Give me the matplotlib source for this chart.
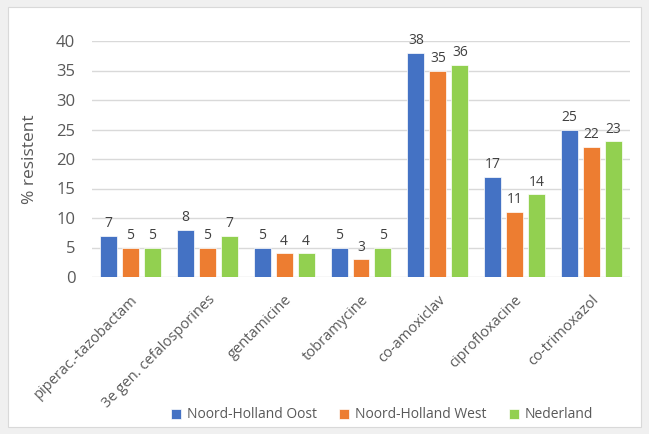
import matplotlib
matplotlib.use("Agg")
import matplotlib.pyplot as plt
import numpy as np
from matplotlib.patches import Rectangle

categories = ["piperac.-tazobactam", "3e gen. cefalosporines", "gentamicine",
              "tobramycine", "co-amoxiclav", "ciprofloxacine", "co-trimoxazol"]
series_names = ["Noord-Holland Oost", "Noord-Holland West", "Nederland"]
nho = [7, 8, 5, 5, 38, 17, 25]
nhw = [5, 5, 4, 3, 35, 11, 22]
nl = [5, 7, 4, 5, 36, 14, 23]
colors = ["#4472C4", "#ED7D31", "#92D050"]
yticks = [0, 5, 10, 15, 20, 25, 30, 35, 40]

plt.rcParams['font.family'] = ['Open Sans', 'DejaVu Sans']
fig = plt.figure(figsize=(6.49, 4.34), dpi=100)
fig.patch.set_facecolor("#f0f0f0")
fig.patches.append(Rectangle((8/649, 7/434), 633/649, 420/434, transform=fig.transFigure,
                             facecolor="white", edgecolor="#d9d9d9", lw=0.8, zorder=-10))

ax = fig.add_axes([92/649, 1-277/434, 538/649, 236/434])
ax.set_zorder(5)
ax.set_facecolor("none")
x = np.arange(len(categories))
w = 0.22
off = 0.285
for i, (vals, name) in enumerate(zip([nho, nhw, nl], series_names)):
    pos = x + (i-1)*off
    bars = ax.bar(pos, vals, width=w, color=colors[i], label=name, zorder=3,
                  edgecolor="white", linewidth=0.5)
    for p, v in zip(pos, vals):
        ax.text(p, v + 0.8, str(v), ha="center", va="bottom", fontsize=10, color="#404040", zorder=4)

ax.set_ylim(0, 40)
ax.set_xlim(-0.5, len(categories)-0.5)
ax.set_yticks(yticks)
ax.yaxis.grid(True, color="#d9d9d9", lw=1, zorder=0)
ax.set_axisbelow(True)
for s in ax.spines.values():
    s.set_visible(False)
ax.tick_params(axis="both", length=0, colors="#595959")
ax.tick_params(axis="y", labelsize=12, pad=12)
ax.set_xticks(x)
ax.set_xticklabels(categories, rotation=45, ha="right", rotation_mode="anchor", fontsize=10.5)
ax.tick_params(axis="x", pad=11)
ax.set_ylabel("% resistent", fontsize=12.5, color="#595959", labelpad=13)

leg = fig.legend(loc="center", bbox_to_anchor=(382/649, 1-415/434), ncol=3, frameon=False,
                 fontsize=10, handlelength=0.7, handleheight=0.7, handletextpad=0.4, columnspacing=1.65)
leg.set_zorder(6)
for t in leg.get_texts():
    t.set_color("#595959")

fig.savefig("out.png", dpi=100)
